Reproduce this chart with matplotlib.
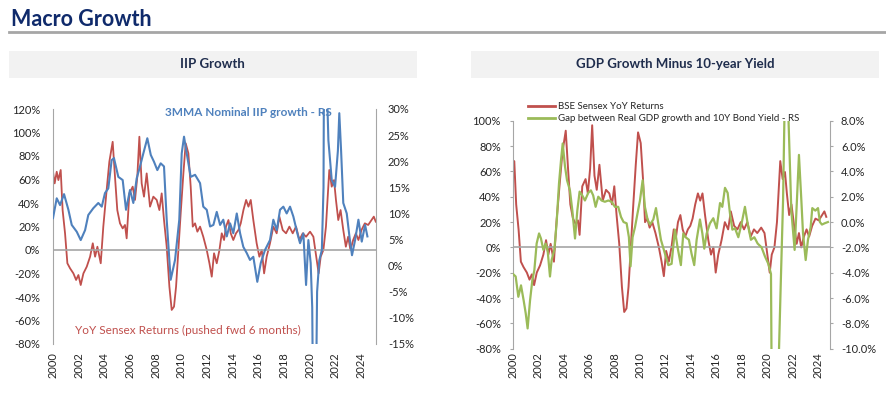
import matplotlib
matplotlib.use("Agg")
import matplotlib.pyplot as plt
from matplotlib.patches import Rectangle
from matplotlib.lines import Line2D
from matplotlib.ticker import FuncFormatter
import numpy as np

# === DATI ===
# Sensex YoY (%), date in anni decimali (serie non spostata)
sensex_t = [1999.50, 1999.63, 1999.79, 1999.92, 2000.10, 2000.25, 2000.44, 2000.62, 2000.83, 2001.09,
            2001.30, 2001.48, 2001.66, 2001.87, 2002.13, 2002.39, 2002.60, 2002.78, 2002.96, 2003.22,
            2003.42, 2003.68, 2003.89, 2004.15, 2004.33, 2004.51, 2004.72, 2004.93, 2005.11, 2005.24,
            2005.45, 2005.71, 2005.89, 2006.07, 2006.23, 2006.41, 2006.59, 2006.80, 2007.06, 2007.32,
            2007.58, 2007.79, 2007.97, 2008.15, 2008.36, 2008.57, 2008.75, 2008.93, 2009.09, 2009.27,
            2009.45, 2009.66, 2009.84, 2010.05, 2010.23, 2010.39, 2010.57, 2010.75, 2010.96, 2011.21,
            2011.48, 2011.69, 2011.87, 2012.05, 2012.26, 2012.47, 2012.65, 2012.83, 2012.98, 2013.17,
            2013.35, 2013.55, 2013.76, 2013.95, 2014.13, 2014.34, 2014.55, 2014.73, 2014.91, 2015.11,
            2015.37, 2015.58, 2015.77, 2015.95, 2016.15, 2016.41, 2016.67, 2016.93, 2017.14, 2017.40,
            2017.66, 2017.92, 2018.18, 2018.44, 2018.70, 2018.96, 2019.22, 2019.53, 2019.79, 2020.05,
            2020.20, 2020.36, 2020.57, 2020.77, 2021.03, 2021.22, 2021.40, 2021.55, 2021.73, 2021.91,
            2022.12, 2022.32, 2022.50, 2022.68, 2022.89, 2023.10, 2023.30, 2023.54, 2023.80, 2024.06,
            2024.32, 2024.50, 2024.65]
sensex_yoy = [66.6, 56.7, 66.6, 59.5, 68.1, 33.9, 14.0, -11.3, -15.6, -19.9,
              -25.5, -21.3, -29.8, -19.9, -14.2, -5.7, 5.7, -5.7, 2.8, -11.3,
              19.9, 51.0, 75.1, 92.1, 62.4, 34.0, 22.7, 18.4, 21.3, 9.9,
              48.2, 53.9, 42.6, 62.4, 96.4, 56.7, 45.4, 65.2, 36.9, 45.4,
              42.6, 34.0, 48.2, 25.5, 2.8, -31.2, -51.0, -48.2, -31.2, 0.0,
              31.2, 65.2, 90.8, 82.3, 53.9, 19.9, 22.7, 15.6, 19.9, 11.3,
              0.0, -11.3, -22.7, -2.8, -11.3, 0.0, 14.2, 8.5, 19.9, 25.5,
              14.2, 8.5, 14.2, 17.0, 22.7, 34.0, 42.6, 36.9, 42.6, 25.5,
              5.7, -5.7, 0.0, -19.9, -5.7, 5.7, 19.9, 14.2, 28.4, 17.0,
              14.2, 19.9, 14.2, 19.9, 8.5, 14.2, 11.3, 15.6, 11.3, -8.5,
              -19.9, -5.7, 0.0, 19.9, 68.1, 53.9, 59.5, 42.6, 25.5, 34.0,
              17.0, 2.8, 11.3, 0.0, 8.5, 14.2, 8.5, 17.0, 22.7, 21.3,
              25.5, 28.4, 24.1]
SHIFT = 0.5  # spinta in avanti di 6 mesi (grafico IIP)

# IIP nominale 3MMA (%), asse destro
iip_t = [2000.00, 2000.29, 2000.55, 2000.86, 2001.20, 2001.46, 2001.85, 2002.16, 2002.50, 2002.75,
         2003.14, 2003.53, 2003.80, 2004.05, 2004.31, 2004.57, 2004.75, 2005.09, 2005.43, 2005.69,
         2006.00, 2006.26, 2006.52, 2006.78, 2007.04, 2007.35, 2007.62, 2007.87, 2008.13, 2008.39,
         2008.65, 2008.86, 2009.17, 2009.51, 2009.84, 2010.03, 2010.21, 2010.42, 2010.73, 2011.07,
         2011.46, 2011.71, 2011.98, 2012.24, 2012.50, 2012.76, 2013.02, 2013.27, 2013.54, 2013.80,
         2014.05, 2014.32, 2014.58, 2014.83, 2015.10, 2015.35, 2015.61, 2015.92, 2016.19, 2016.52,
         2016.91, 2017.17, 2017.44, 2017.69, 2017.95, 2018.21, 2018.47, 2018.73, 2019.04, 2019.25,
         2019.51, 2019.72, 2019.90, 2020.08, 2020.20, 2020.33, 2020.45, 2020.58, 2020.75, 2020.95,
         2021.08, 2021.18, 2021.28, 2021.46, 2021.72, 2021.98, 2022.20, 2022.31, 2022.45, 2022.62,
         2022.89, 2023.10, 2023.30, 2023.54, 2023.80, 2024.06, 2024.32, 2024.50]
iip_growth = [9.1, 12.9, 11.6, 13.7, 10.7, 7.8, 6.5, 4.9, 6.8, 9.7,
              11.0, 12.0, 11.3, 13.9, 14.8, 20.2, 20.6, 17.0, 16.4, 10.7,
              14.5, 12.0, 16.7, 19.0, 21.5, 24.4, 21.2, 19.9, 18.3, 19.6,
              19.0, 8.8, -2.7, 1.1, 8.8, 21.5, 24.7, 21.5, 17.0, 17.4,
              15.8, 11.3, 10.7, 7.5, 7.8, 10.3, 7.8, 8.8, 5.6, 8.1,
              6.2, 10.0, 6.2, 3.6, 2.4, 1.1, 1.7, -3.1, 0.5, 3.0,
              4.9, 8.8, 6.8, 10.7, 11.3, 10.0, 11.3, 9.4, 6.2, 4.3,
              6.2, -3.7, 4.9, 0.5, -8.0, -45.0, -35.0, -5.0, 1.0, 3.0,
              15.0, 80.0, 40.0, 24.0, 16.4, 15.1, 22.0, 29.2, 22.0, 12.0,
              10.0, 5.6, 2.0, 4.9, 8.8, 4.6, 7.8, 5.6]

# Gap tra crescita PIL reale e rendimento 10Y (%), asse destro
gap_t = [2000.00, 2000.21, 2000.42, 2000.63, 2000.84, 2001.00, 2001.15, 2001.34, 2001.52, 2001.68,
         2001.86, 2002.05, 2002.20, 2002.39, 2002.57, 2002.73, 2002.91, 2003.04, 2003.25, 2003.43,
         2003.62, 2003.78, 2003.91, 2004.09, 2004.25, 2004.48, 2004.67, 2004.88, 2005.06, 2005.24,
         2005.45, 2005.66, 2005.92, 2006.13, 2006.31, 2006.50, 2006.71, 2006.97, 2007.23, 2007.50,
         2007.76, 2008.02, 2008.28, 2008.50, 2008.70, 2008.94, 2009.12, 2009.25, 2009.41, 2009.60,
         2009.80, 2009.99, 2010.20, 2010.38, 2010.59, 2010.78, 2011.04, 2011.25, 2011.43, 2011.64,
         2011.90, 2012.22, 2012.48, 2012.74, 2012.95, 2013.21, 2013.40, 2013.58, 2013.84, 2014.05,
         2014.26, 2014.45, 2014.71, 2014.90, 2015.05, 2015.24, 2015.50, 2015.76, 2016.02, 2016.29,
         2016.47, 2016.68, 2016.89, 2017.07, 2017.26, 2017.47, 2017.73, 2017.99, 2018.25, 2018.46,
         2018.72, 2018.99, 2019.25, 2019.56, 2019.82, 2020.09, 2020.30, 2020.45, 2020.65, 2020.88,
         2021.07, 2021.25, 2021.45, 2021.62, 2021.90, 2022.16, 2022.34, 2022.50, 2022.69, 2022.82,
         2023.03, 2023.21, 2023.42, 2023.55, 2023.79, 2024.00, 2024.15, 2024.31, 2024.52, 2024.78]
gap_gdp_yield = [-4.1, -4.3, -5.9, -5.0, -6.2, -7.2, -8.4, -6.2, -4.6, -3.8,
                 -1.7, -0.9, -1.3, -2.2, -1.7, -2.3, -4.3, -3.0, -2.2, -0.1,
                 3.05, 4.9, 6.2, 4.4, 3.3, 2.5, 0.9, -1.3, 0.9, 2.4,
                 2.1, 1.7, 2.3, 2.5, 2.1, 1.2, 2.0, 1.7, 1.6, 1.7,
                 1.6, 1.2, 1.2, 0.4, 0.0, -0.1, -1.2, -3.5, -1.2, -0.4,
                 0.7, 1.7, 3.3, 1.2, 0.2, -0.2, 0.2, 1.1, -0.1, -1.4,
                 -2.3, -3.4, -3.3, -0.6, -2.0, -3.4, -0.9, -1.2, -1.4, -2.5,
                 -3.4, -1.4, 0.2, -0.9, -2.1, -0.9, -0.1, 0.3, -0.5, 1.5,
                 1.2, 2.7, 2.3, 0.7, -0.6, -0.5, -1.2, -0.1, 1.2, -0.1,
                 -1.4, -1.2, -1.7, -2.0, -2.7, -3.3, -4.1, -28.0, -20.0, -12.0,
                 -4.8, 1.7, 14.0, 10.0, 0.9, -2.2, 1.7, 5.3, 1.7, -0.9,
                 -3.0, -1.4, -0.4, 1.1, 0.9, 1.1, 0.0, -0.2, -0.1, 0.0]

years = list(range(2000, 2025, 2))

RED = "#C0504D"
BLUE = "#4F81BD"
GREEN = "#9BBB59"
GRAY = "#A6A6A6"
TXT = "#262626"
W, H = 886, 398

plt.rcParams["font.family"] = ["Lato", "DejaVu Sans"]


def px_rect(x0, y0, x1, y1):
    return [x0 / W, 1 - y1 / H, (x1 - x0) / W, (y1 - y0) / H]


def pct0(v, pos):
    return f"{v:.0f}%"


def pct1(v, pos):
    return f"{v:.1f}%"


fig = plt.figure(figsize=(W / 100, H / 100), dpi=100)

# --- intestazione ---
fig.text(11 / W, 1 - 20 / H, "Macro Growth", fontsize=15.5, fontweight="bold",
         color="#0F2A6B", va="center", ha="left")
fig.add_artist(Line2D([9 / W, 1], [1 - 32 / H, 1 - 32 / H], color=GRAY, lw=2))
for x0, x1, title in [(9, 416.7, "IIP Growth"), (470.7, 879, "GDP Growth Minus 10-year Yield")]:
    r = px_rect(x0, 51, x1, 77.7)
    fig.add_artist(Rectangle((r[0], r[1]), r[2], r[3], transform=fig.transFigure,
                             facecolor="#F2F2F2", edgecolor="none"))
    fig.text((x0 + x1) / 2 / W, 1 - 64.5 / H, title, fontsize=9.5, fontweight="bold",
             color="#1F2D4D", ha="center", va="center")

# --- grafico IIP ---
ax1 = fig.add_axes(px_rect(53, 109, 376, 344))
ax1r = ax1.twinx()
ax1.plot(np.array(sensex_t) + SHIFT, sensex_yoy, color=RED, lw=1.3)
ax1r.plot(iip_t, iip_growth, color=BLUE, lw=1.5)
ax1.axhline(0, color=GRAY, lw=1.2)
ax1.set_xlim(2000, 2025.17)
ax1.set_ylim(-80, 120)
ax1.set_yticks(range(-80, 121, 20))
ax1r.set_ylim(-15, 30)
ax1r.set_yticks(range(-15, 31, 5))
ax1.yaxis.set_major_formatter(FuncFormatter(pct0))
ax1r.yaxis.set_major_formatter(FuncFormatter(pct0))
ax1.tick_params(axis="y", length=0, pad=9.4, labelsize=8, labelcolor=TXT)
ax1r.tick_params(axis="y", length=0, pad=8.6, labelsize=8, labelcolor=TXT)
ax1.set_xticks(years)
ax1.set_xticklabels([str(y) for y in years], rotation=90)
ax1.tick_params(axis="x", length=0, pad=6, labelsize=8, labelcolor=TXT)
for s in ["top", "bottom", "right"]:
    ax1.spines[s].set_visible(False)
for s in ["top", "bottom", "left"]:
    ax1r.spines[s].set_visible(False)
ax1.spines["left"].set_color(GRAY)
ax1r.spines["right"].set_color(GRAY)
fig.text(165 / W, 1 - 113 / H, "3MMA Nominal IIP growth - RS", fontsize=8.5,
         fontweight="bold", color=BLUE, va="center")
fig.text(75 / W, 1 - 330 / H, "YoY Sensex Returns (pushed fwd 6 months)", fontsize=8.5,
         color=RED, va="center")

# --- grafico PIL meno rendimento ---
ax2 = fig.add_axes(px_rect(513, 120.7, 829.7, 348.7))
ax2r = ax2.twinx()
ax2.plot(sensex_t, sensex_yoy, color=RED, lw=1.4)
ax2r.plot(gap_t, gap_gdp_yield, color=GREEN, lw=1.6)
ax2.axhline(0, color=GRAY, lw=1.2)
ax2.set_xlim(2000, 2024.92)
ax2.set_ylim(-80, 100)
ax2.set_yticks(range(-80, 101, 20))
ax2r.set_ylim(-10, 8)
ax2r.set_yticks(range(-10, 9, 2))
ax2.yaxis.set_major_formatter(FuncFormatter(pct0))
ax2r.yaxis.set_major_formatter(FuncFormatter(pct1))
ax2.tick_params(axis="y", direction="out", length=2.2, color=GRAY, pad=6.5,
                labelsize=8, labelcolor=TXT)
ax2r.tick_params(axis="y", direction="out", length=2.2, color=GRAY, pad=5.9,
                 labelsize=8, labelcolor=TXT)
ax2.set_xticks(years)
ax2.set_xticklabels([str(y) for y in years], rotation=90)
ax2.tick_params(axis="x", length=0, pad=2.5, labelsize=8, labelcolor=TXT)
for s in ["top", "bottom", "right"]:
    ax2.spines[s].set_visible(False)
for s in ["top", "bottom", "left"]:
    ax2r.spines[s].set_visible(False)
ax2.spines["left"].set_color(GRAY)
ax2r.spines["right"].set_color(GRAY)

fig.legend([Line2D([], [], color=RED, lw=2), Line2D([], [], color=GREEN, lw=2)],
           ["BSE Sensex YoY Returns", "Gap between Real GDP growth and 10Y Bond Yield - RS"],
           loc="upper left", bbox_to_anchor=(528 / W, 1 - 102 / H), frameon=False,
           fontsize=7, handlelength=2.8, handletextpad=0.25, labelspacing=0.35,
           borderpad=0, borderaxespad=0, labelcolor=TXT)

fig.savefig("out.png", dpi=100)
